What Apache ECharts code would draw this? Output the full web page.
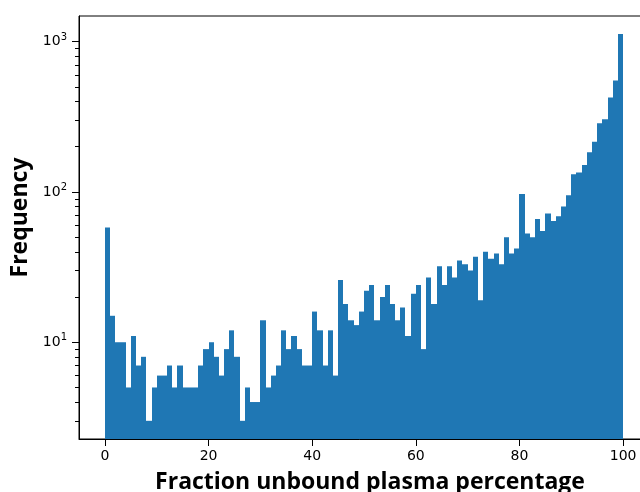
<!DOCTYPE html>
<html>
<head>
<meta charset="utf-8">
<script src="https://cdn.jsdelivr.net/npm/echarts@6/dist/echarts.min.js"></script>
<style>
  html, body { margin: 0; padding: 0; background: #fff; }
  #hist { width: 640px; height: 492px; }
</style>
</head>
<body>
<div id="hist"></div>
<script>
// counts per 1%-wide bin, 0..100
const counts = [
    58, 15, 10, 10, 5, 11, 7, 8, 3, 5,
    6, 6, 7, 5, 7, 5, 5, 5, 7, 9,
    10, 8, 6, 9, 12, 8, 3, 5, 4, 4,
    14, 5, 6, 7, 12, 9, 11, 9, 7, 7,
    16, 12, 7, 12, 6, 26, 18, 14, 13, 16,
    22, 24, 14, 20, 24, 18, 14, 17, 11, 21,
    24, 9, 27, 18, 32, 24, 32, 27, 35, 33,
    30, 37, 19, 40, 36, 39, 33, 50, 39, 42,
    97, 53, 50, 66, 55, 72, 64, 69, 80, 95,
    131, 135, 151, 184, 216, 287, 305, 425, 552, 1125
];
const binWidth = 1;
const xTicks = [0, 20, 40, 60, 80, 100];
const yMajor = [10, 100, 1000];
const yMinor = [3, 4, 5, 6, 7, 8, 9, 20, 30, 40, 50, 60, 70, 80, 90, 200, 300, 400, 500, 600, 700, 800, 900];
const yMin = 2.27, yMax = 1483;

let chart = echarts.init(document.getElementById('hist'));

let option = {
    animation: false,
    grid: {
        left: 79, top: 16, width: 570, height: 423,
        outerBoundsMode: 'none',
        show: true, borderColor: '#000', borderWidth: 1
    },
    xAxis: {
        type: 'value',
        min: -5,
        max: 105,
        name: 'Fraction unbound plasma percentage',
        nameLocation: 'middle',
        nameGap: 32,
        nameTextStyle: {
            fontFamily: 'Open Sans', fontWeight: 'bold', fontSize: 23, color: '#000',
            padding: [0, 0, 0, 12]
        },
        axisLine: { onZero: false, lineStyle: { color: '#000', width: 1 } },
        axisTick: { customValues: xTicks, length: 7, lineStyle: { color: '#000' } },
        axisLabel: {
            customValues: xTicks, margin: 10,
            fontFamily: 'DejaVu Sans', fontSize: 14, color: '#000'
        },
        splitLine: { show: false }
    },
    yAxis: [
        {
            type: 'log',
            logBase: 10,
            min: yMin,
            max: yMax,
            name: 'Frequency',
            nameLocation: 'middle',
            nameGap: 41,
            nameTextStyle: {
                fontFamily: 'Open Sans', fontWeight: 'bold', fontSize: 23, color: '#000',
                padding: [0, 0, 0, 20]
            },
            axisLine: { show: true, onZero: false, lineStyle: { color: '#000', width: 1 } },
            axisTick: { show: true, customValues: yMajor, length: 7, lineStyle: { color: '#000' } },
            axisLabel: {
                customValues: yMajor, margin: 12,
                fontFamily: 'DejaVu Sans', fontSize: 14, color: '#000',
                formatter: function (v) {
                    return '10{sup|' + Math.round(Math.log10(v)) + '}';
                },
                rich: {
                    sup: { fontFamily: 'DejaVu Sans', fontSize: 10, color: '#000', padding: [0, 0, 9, 0] }
                }
            },
            splitLine: { show: false }
        },
        {
            // minor ticks only
            type: 'log',
            logBase: 10,
            min: yMin,
            max: yMax,
            position: 'left',
            axisLine: { show: false, onZero: false },
            axisTick: { show: true, customValues: yMinor, length: 4, lineStyle: { color: '#000' } },
            axisLabel: { show: false },
            splitLine: { show: false }
        }
    ],
    series: [
        {
            type: 'custom',
            clip: true,
            renderItem: function (params, api) {
                let x = api.value(0), v = api.value(1);
                let p0 = api.coord([x, v]);
                let p1 = api.coord([x + binWidth, yMin]);
                let x0 = Math.round(p0[0]), x1 = Math.round(p1[0]);
                return {
                    type: 'rect',
                    shape: { x: x0, y: p0[1], width: x1 - x0, height: p1[1] - p0[1] },
                    style: { fill: '#1f77b4' }
                };
            },
            encode: { x: 0, y: 1 },
            data: counts.map(function (c, i) { return [i * binWidth, c]; })
        }
    ]
};

chart.setOption(option);
</script>
</body>
</html>
